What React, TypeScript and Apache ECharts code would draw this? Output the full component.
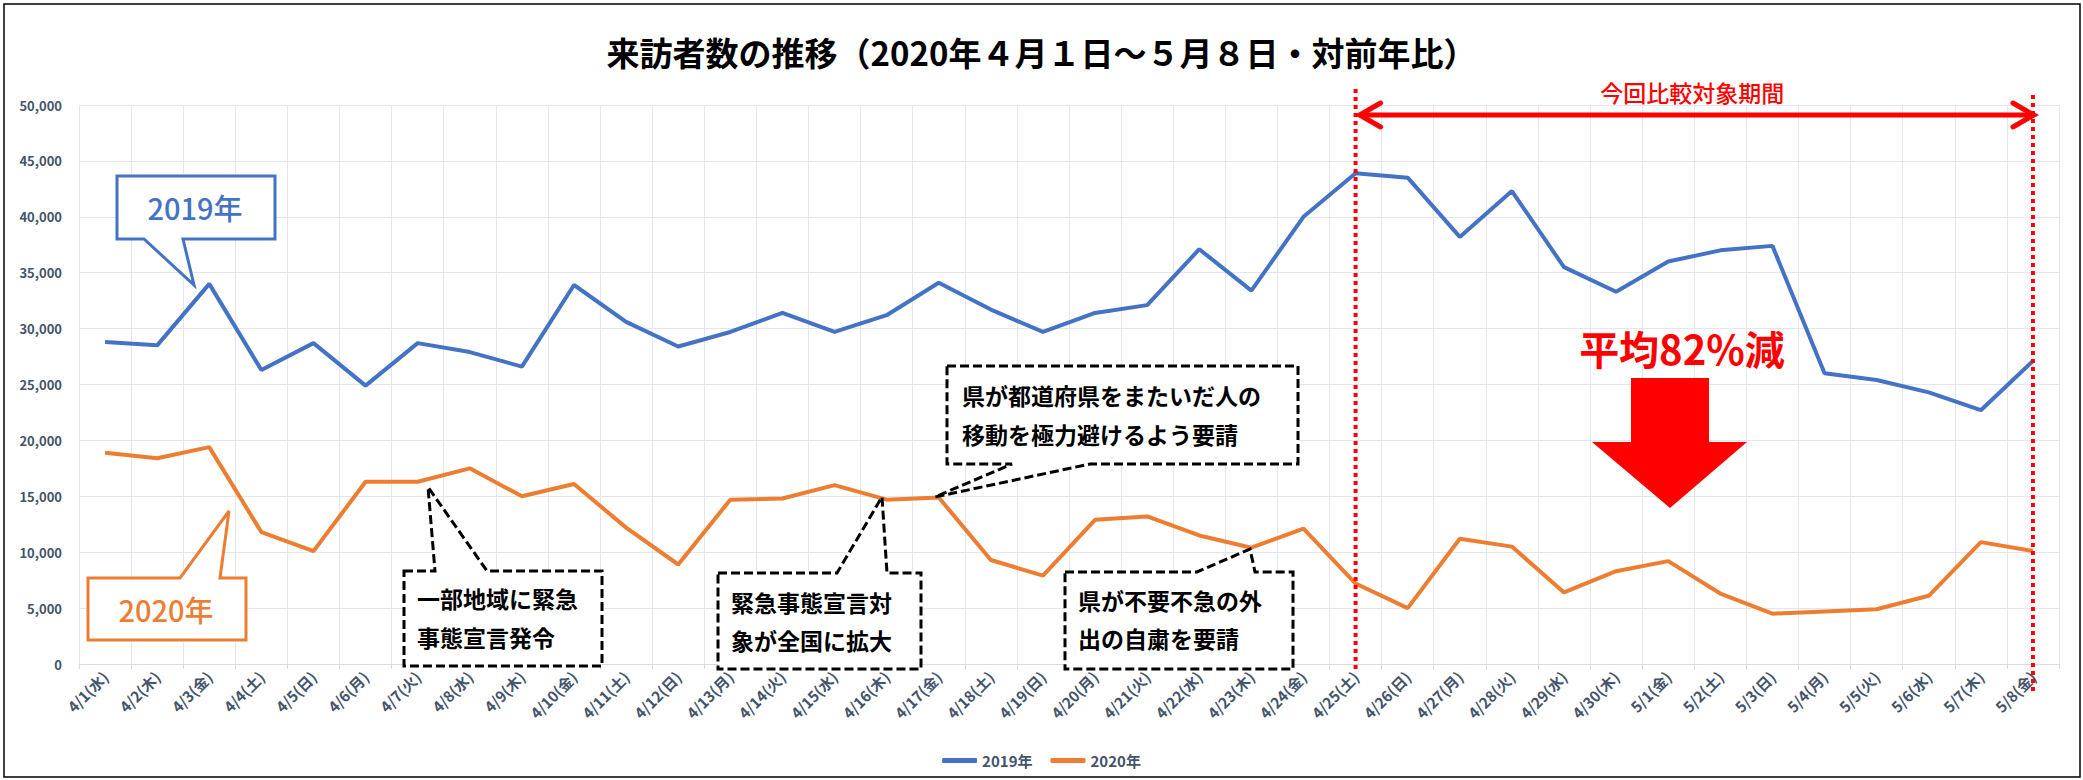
import React, { useEffect, useRef } from "react";
import * as echarts from "echarts";

const categories: string[] = [
  "4/1(水)", "4/2(木)", "4/3(金)", "4/4(土)", "4/5(日)", "4/6(月)", "4/7(火)", "4/8(水)",
  "4/9(木)", "4/10(金)", "4/11(土)", "4/12(日)", "4/13(月)", "4/14(火)", "4/15(水)", "4/16(木)",
  "4/17(金)", "4/18(土)", "4/19(日)", "4/20(月)", "4/21(火)", "4/22(水)", "4/23(木)", "4/24(金)",
  "4/25(土)", "4/26(日)", "4/27(月)", "4/28(火)", "4/29(水)", "4/30(木)", "5/1(金)", "5/2(土)",
  "5/3(日)", "5/4(月)", "5/5(火)", "5/6(水)", "5/7(木)", "5/8(金)",
];

const visitors2019: number[] = [
  28800, 28500, 34000, 26300, 28700, 24900, 28700, 27900, 26600, 33900, 30600, 28400,
  29700, 31400, 29700, 31200, 34100, 31700, 29700, 31400, 32100, 37100, 33400, 40000,
  43900, 43500, 38200, 42300, 35500, 33300, 36000, 37000, 37400, 26000, 25400, 24300,
  22700, 27100,
];

const visitors2020: number[] = [
  18900, 18400, 19400, 11800, 10100, 16300, 16300, 17500, 15000, 16100, 12200, 8900,
  14700, 14800, 16000, 14700, 14900, 9300, 7900, 12900, 13200, 11500, 10400, 12100,
  7200, 5000, 11200, 10500, 6400, 8300, 9200, 6300, 4500, 4700, 4900, 6100,
  10900, 10100,
];

const seriesNames: string[] = ["2019年", "2020年"];
const periodStart = "4/25(土)";
const periodEnd = "5/8(金)";

const titleText = "来訪者数の推移（2020年４月１日～５月８日・対前年比）";
const FONT = '"Noto Sans CJK JP", "Noto Sans", sans-serif';
const LABEL_COLOR = "#44546A";
const BLUE = "#4472C4";
const ORANGE = "#ED7D31";
const RED = "#FF0000";

export default function App() {
  const ref = useRef<HTMLDivElement>(null);

  useEffect(() => {
    document.body.style.margin = "0";
    document.body.style.overflow = "hidden";
    if (!ref.current) return;
    const chart = echarts.init(ref.current, null, { renderer: "svg" });

    chart.setOption({
      animation: false,
      backgroundColor: "#fff",
      textStyle: { fontFamily: FONT },
      title: {
        text: titleText,
        left: "center",
        top: 30,
        textStyle: { fontSize: 33, fontWeight: "bold", color: "#000", fontFamily: FONT },
      },
      legend: {
        data: seriesNames,
        left: "center",
        top: 748,
        icon: "roundRect",
        itemWidth: 35,
        itemHeight: 5,
        itemGap: 18,
        textStyle: { fontSize: 15, fontWeight: "bold", color: LABEL_COLOR, fontFamily: FONT },
      },
      grid: { left: 79, right: 24, top: 105, bottom: 116 },
      xAxis: {
        type: "category",
        data: categories,
        boundaryGap: true,
        axisLine: { lineStyle: { color: "#D9D9D9", width: 1 } },
        axisTick: { show: true, length: 5, lineStyle: { color: "#D9D9D9" } },
        splitLine: { show: true, lineStyle: { color: "#E3E6EE", width: 1 } },
        axisLabel: {
          rotate: 45,
          interval: 0,
          margin: 10,
          fontSize: 15,
          fontWeight: "bold",
          color: LABEL_COLOR,
          fontFamily: FONT,
        },
      },
      yAxis: {
        type: "value",
        min: 0,
        max: 50000,
        interval: 5000,
        axisLine: { show: false },
        axisTick: { show: false },
        splitLine: { lineStyle: { color: "#E3E6EE", width: 1 } },
        axisLabel: {
          margin: 17,
          fontSize: 13,
          fontWeight: "bold",
          color: LABEL_COLOR,
          fontFamily: FONT,
          formatter: (v: number) => v.toLocaleString("en-US"),
        },
      },
      series: [
        {
          name: seriesNames[0],
          type: "line",
          data: visitors2019,
          symbol: "none",
          color: BLUE,
          lineStyle: { color: BLUE, width: 4 },
          z: 3,
        },
        {
          name: seriesNames[1],
          type: "line",
          data: visitors2020,
          symbol: "none",
          color: ORANGE,
          lineStyle: { color: ORANGE, width: 4 },
          z: 3,
        },
      ],
    });

    const xs = chart.convertToPixel({ xAxisIndex: 0 }, categories.indexOf(periodStart)) as number;
    const xe = chart.convertToPixel({ xAxisIndex: 0 }, categories.indexOf(periodEnd)) as number;

    const dashed = { fill: "#fff", stroke: "#000", lineWidth: 3, lineDash: [9, 4] };
    const calloutFont = { fontSize: 23, fontWeight: "bold", fontFamily: FONT, fill: "#000" };

    const graphic: any[] = [
      {
        type: "rect",
        silent: true,
        z: 0,
        shape: { x: 4, y: 4, width: 2076, height: 773 },
        style: { fill: "none", stroke: "#000", lineWidth: 1.5 },
      },
      // 2019 callout
      {
        type: "polygon",
        z: 50,
        shape: { points: [[117, 176], [275, 176], [275, 239], [183, 239], [194, 285], [144, 239], [117, 239]] },
        style: { fill: "#fff", stroke: BLUE, lineWidth: 3 },
      },
      {
        type: "text",
        z: 51,
        style: { text: "2019年", x: 195, y: 207, align: "center", verticalAlign: "middle", fontSize: 29, fontWeight: 500, fontFamily: FONT, fill: BLUE },
      },
      // 2020 callout
      {
        type: "polygon",
        z: 50,
        shape: { points: [[88, 578], [180, 578], [229, 511], [220, 578], [246, 578], [246, 640], [88, 640]] },
        style: { fill: "#fff", stroke: ORANGE, lineWidth: 3 },
      },
      {
        type: "text",
        z: 51,
        style: { text: "2020年", x: 166, y: 609, align: "center", verticalAlign: "middle", fontSize: 29, fontWeight: 500, fontFamily: FONT, fill: ORANGE },
      },
      // dashed callout 1
      {
        type: "polygon",
        z: 50,
        shape: { points: [[404, 571], [435, 571], [428, 487], [487, 571], [602, 571], [602, 666], [404, 666]] },
        style: dashed,
      },
      {
        type: "text",
        z: 51,
        style: { text: "一部地域に緊急\n事態宣言発令", x: 417, y: 578, lineHeight: 39, verticalAlign: "top", ...calloutFont },
      },
      // dashed callout 2
      {
        type: "polygon",
        z: 50,
        shape: { points: [[718, 573], [837, 573], [882, 497], [887, 573], [921, 573], [921, 669], [718, 669]] },
        style: dashed,
      },
      {
        type: "text",
        z: 51,
        style: { text: "緊急事態宣言対\n象が全国に拡大", x: 731, y: 583, lineHeight: 38, verticalAlign: "top", ...calloutFont },
      },
      // dashed callout 3
      {
        type: "polygon",
        z: 50,
        shape: { points: [[947, 366], [1298, 366], [1298, 464], [1090, 464], [935, 497], [1012, 464], [947, 464]] },
        style: dashed,
      },
      {
        type: "text",
        z: 51,
        style: { text: "県が都道府県をまたいだ人の\n移動を極力避けるよう要請", x: 962, y: 375, lineHeight: 39, verticalAlign: "top", ...calloutFont },
      },
      // dashed callout 4
      {
        type: "polygon",
        z: 50,
        shape: { points: [[1065, 572], [1197, 572], [1250, 549], [1255, 572], [1293, 572], [1293, 669], [1065, 669]] },
        style: dashed,
      },
      {
        type: "text",
        z: 51,
        style: { text: "県が不要不急の外\n出の自粛を要請", x: 1078, y: 581, lineHeight: 38, verticalAlign: "top", ...calloutFont },
      },
      // dotted period lines
      {
        type: "line",
        z: 60,
        shape: { x1: xs, y1: 89, x2: xs, y2: 673 },
        style: { stroke: RED, lineWidth: 4, lineDash: [4, 4] },
      },
      {
        type: "line",
        z: 60,
        shape: { x1: xe, y1: 95, x2: xe, y2: 693 },
        style: { stroke: RED, lineWidth: 4, lineDash: [4, 4] },
      },
      // double arrow
      {
        type: "line",
        z: 60,
        shape: { x1: xs + 4, y1: 115, x2: xe + 1, y2: 115 },
        style: { stroke: RED, lineWidth: 5 },
      },
      {
        type: "polyline",
        z: 60,
        shape: { points: [[xs + 25, 103], [xs + 4, 115], [xs + 25, 127]] },
        style: { stroke: RED, lineWidth: 5, fill: "none", lineCap: "round", lineJoin: "miter" },
      },
      {
        type: "polyline",
        z: 60,
        shape: { points: [[xe - 20, 103], [xe + 1, 115], [xe - 20, 127]] },
        style: { stroke: RED, lineWidth: 5, fill: "none", lineCap: "round", lineJoin: "miter" },
      },
      {
        type: "text",
        z: 60,
        style: { text: "今回比較対象期間", x: (xs + xe) / 2 - 2, y: 92, align: "center", verticalAlign: "middle", fontSize: 23, fontWeight: 500, fontFamily: FONT, fill: RED },
      },
      {
        type: "text",
        z: 60,
        style: { text: "平均82%減", x: 1682, y: 348, align: "center", verticalAlign: "middle", fontSize: 40, fontWeight: "bold", fontFamily: FONT, fill: RED },
      },
      {
        type: "polygon",
        z: 60,
        shape: { points: [[1631, 378], [1709, 378], [1709, 442], [1747, 442], [1670, 508], [1592, 442], [1631, 442]] },
        style: { fill: RED, stroke: "none" },
      },
    ];

    chart.setOption({ graphic });

    return () => {
      chart.dispose();
    };
  }, []);

  return <div ref={ref} style={{ width: 2083, height: 780 }} />;
}
